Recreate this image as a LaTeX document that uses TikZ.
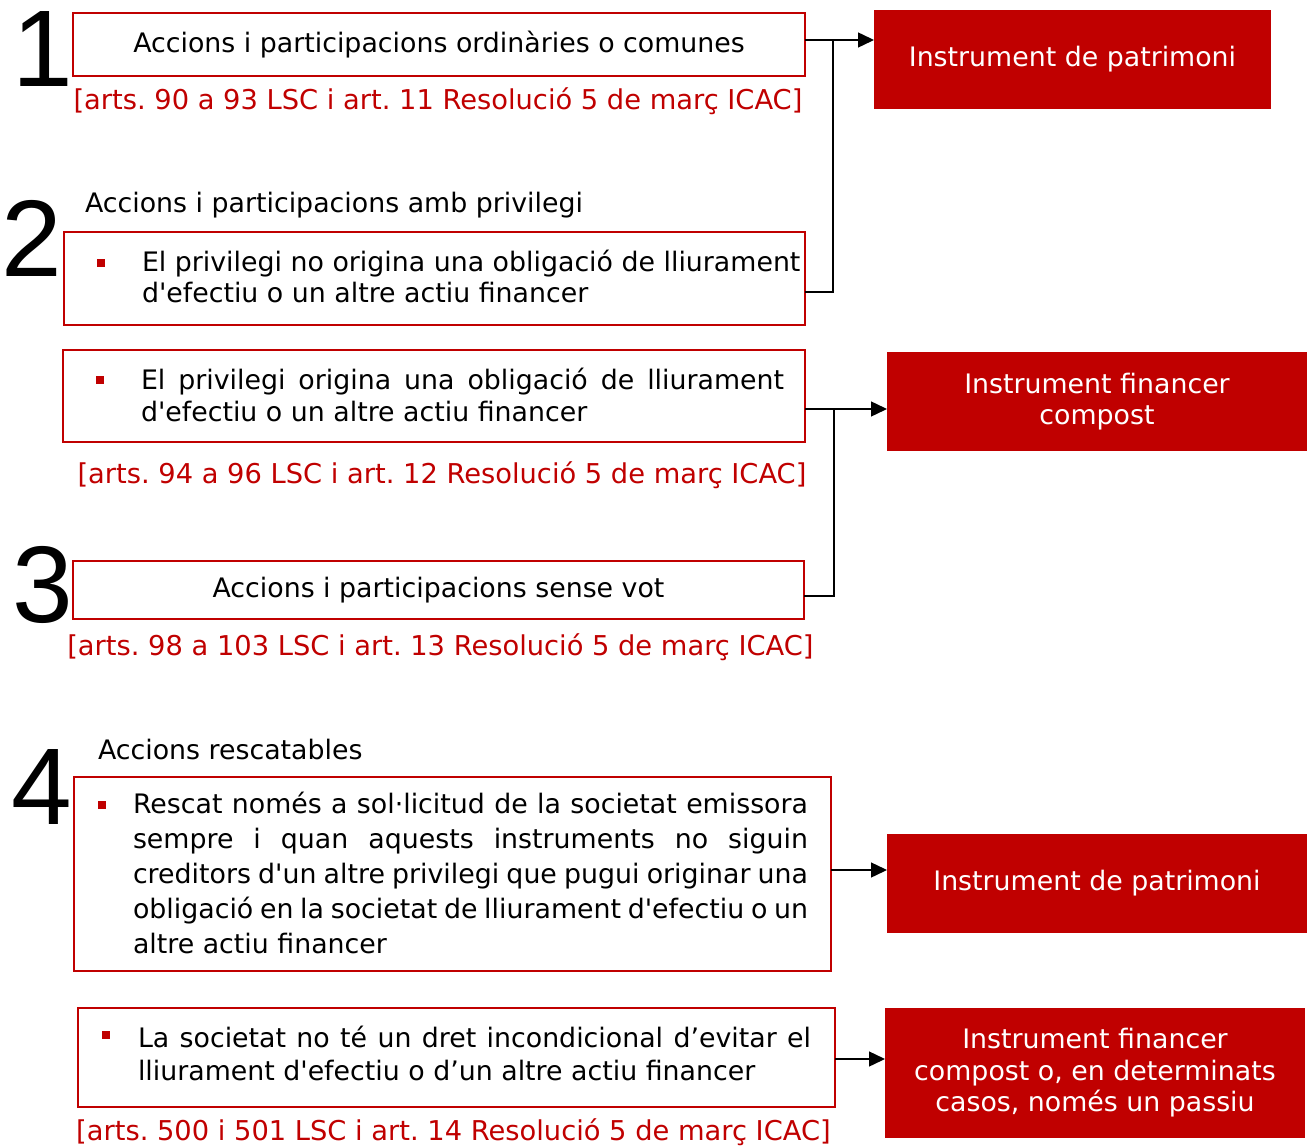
\documentclass[tikz,border=0pt]{standalone}
\usepackage{fontspec}
\newfontfamily\bodyfont{DejaVu Sans}
\newfontfamily\numfont{Liberation Sans}
\usetikzlibrary{arrows.meta}
\definecolor{cred}{HTML}{C00000}
\frenchspacing
\tikzset{
  every node/.style={inner sep=0pt, outer sep=0pt},
  frame/.style={draw=cred, line width=2.2pt, fill=white, anchor=north west, font=\bodyfont\fontsize{26.8}{32}\selectfont},
  result/.style={fill=cred, text=white, anchor=north west, align=center, font=\bodyfont\fontsize{26.8}{31.5}\selectfont},
  txt/.style={font=\bodyfont\fontsize{26.8}{32}\selectfont, anchor=base west},
  reftxt/.style={text=cred, font=\bodyfont\fontsize{27.3}{32}\selectfont, anchor=base},
  bignum/.style={font=\numfont\fontsize{109}{109}\selectfont, anchor=base},
  sq/.style={fill=cred, minimum size=8pt, anchor=north west},
  conn/.style={draw=black, line width=1.4pt},
  arr/.style={conn, -{Triangle[length=16pt, width=15pt]}}
}
\begin{document}
\begin{tikzpicture}[x=1pt,y=-1pt]
\useasboundingbox (0,0) rectangle (1309,1147);

% frames
\node[frame, minimum width=732, minimum height=63] (b1) at (73,13) {Accions i participacions ordinàries o comunes};
\node[frame, minimum width=741, minimum height=93] (b2) at (64,232) {};
\node[frame, minimum width=742, minimum height=92] (b3) at (63,350) {};
\node[frame, minimum width=731, minimum height=58] (b4) at (73,561) {Accions i participacions sense vot};
\node[frame, minimum width=757, minimum height=194] (b5) at (74,777) {};
\node[frame, minimum width=757, minimum height=99] (b6) at (78,1008) {};

% results
\node[result, minimum width=397, minimum height=99] (r1) at (874,10) {\raisebox{-3pt}{Instrument de patrimoni}};
\node[result, minimum width=420, minimum height=99] (r2) at (887,352) {Instrument financer\\compost};
\node[result, minimum width=420, minimum height=99] (r3) at (887,834) {\raisebox{-3pt}{Instrument de patrimoni}};
\node[result, minimum width=420, minimum height=130] (r4) at (885,1008) {Instrument financer\\compost o, en determinats\\casos, només un passiu};

% big numbers
\node[bignum] (n1) at (42.5,87) {1};
\node[bignum] (n2) at (32,277) {2};
\node[bignum] (n3) at (43,622) {3};
\node[bignum] (n4) at (41.5,824) {4};

% titles
\node[txt] (t2) at (85,213) {Accions i participacions amb privilegi};
\node[txt] (t4) at (98,759) {Accions rescatables};

% bullets
\node[sq] (s2) at (97,259) {};
\node[sq] (s3) at (96,376) {};
\node[sq] (s5) at (98,801) {};
\node[sq] (s6) at (102,1031) {};

% box 2 lines
\node[txt] (l2a) at (142,272) {El privilegi no origina una obligació de lliurament};
\node[txt] (l2b) at (142,303) {d'efectiu o un altre actiu financer};
% box 3 lines
\node[txt] (l3a) at (141,390) {\makebox[643pt][s]{El privilegi origina una obligació de lliurament}};
\node[txt] (l3b) at (141,421) {d'efectiu o un altre actiu financer};
% box 5 lines
\node[txt] (l5a) at (133,813) {\makebox[675pt][s]{Rescat només a sol·licitud de la societat emissora}};
\node[txt] (l5b) at (133,848) {\makebox[675pt][s]{sempre i quan aquests instruments no siguin}};
\node[txt] (l5c) at (133,883) {\makebox[675pt][s]{creditors d'un altre privilegi que pugui originar una}};
\node[txt] (l5d) at (133,918) {\makebox[675pt][s]{obligació en la societat de lliurament d'efectiu o un}};
\node[txt] (l5e) at (133,953) {altre actiu financer};
% box 6 lines
\node[txt] (l6a) at (138,1047) {\makebox[673pt][s]{La societat no té un dret incondicional d’evitar el}};
\node[txt] (l6b) at (138,1080) {lliurament d'efectiu o d’un altre actiu financer};

% references
\node[reftxt] (f1) at (438,110) {[arts. 90 a 93 LSC i art. 11 Resolució 5 de març ICAC]};
\node[reftxt] (f2) at (442,483) {[arts. 94 a 96 LSC i art. 12 Resolució 5 de març ICAC]};
\node[reftxt] (f3) at (440.5,655) {[arts. 98 a 103 LSC i art. 13 Resolució 5 de març ICAC]};
\node[reftxt] (f4) at (453.5,1140) {[arts. 500 i 501 LSC i art. 14 Resolució 5 de març ICAC]};

% connectors
\coordinate (j1) at (833,40);
\coordinate (j2) at (833,292);
\draw[arr] (b1.east |- j1) -- (r1.west |- j1);
\draw[conn] (b2.east |- j2) -| (j1);

\coordinate (j3) at (834,409);
\coordinate (j4) at (834,596);
\draw[arr] (b3.east |- j3) -- (r2.west |- j3);
\draw[conn] (b4.east |- j4) -| (j3);

\coordinate (k1) at (860,870);
\draw[arr] (b5.east |- k1) -- (r3.west |- k1);
\coordinate (k2) at (860,1059);
\draw[arr] (b6.east |- k2) -- (r4.west |- k2);
\end{tikzpicture}
\end{document}
